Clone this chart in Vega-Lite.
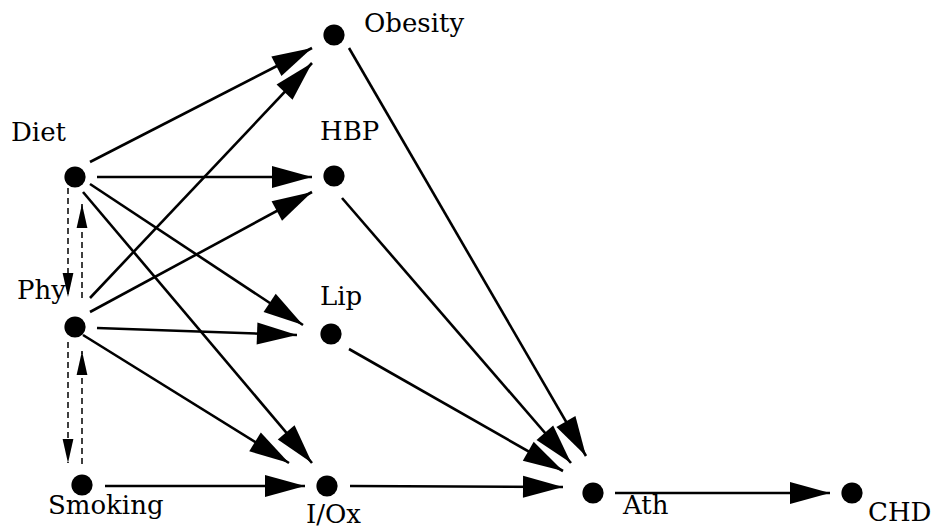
{
  "$schema": "https://vega.github.io/schema/vega-lite/v6.json",
  "width": 935,
  "height": 531,
  "autosize": {"type": "none"},
  "padding": 0,
  "background": "white",
  "config": {"view": {"stroke": null}},
  "datasets": {
    "nodes": [
      {"id": "Obesity", "x": 334, "y": 35, "lx": 364, "ly": 32},
      {"id": "HBP", "x": 334, "y": 176, "lx": 320, "ly": 140},
      {"id": "Diet", "x": 75, "y": 177, "lx": 11, "ly": 141},
      {"id": "Phy", "x": 75, "y": 327, "lx": 17, "ly": 299},
      {"id": "Lip", "x": 331, "y": 334, "lx": 320, "ly": 305},
      {"id": "Smoking", "x": 82, "y": 485, "lx": 48, "ly": 514},
      {"id": "I/Ox", "x": 327, "y": 486, "lx": 306, "ly": 523},
      {"id": "Ath", "x": 593, "y": 493, "lx": 623, "ly": 514},
      {"id": "CHD", "x": 852, "y": 493, "lx": 868, "ly": 521}
    ],
    "edges": [
      {"from": "Diet", "to": "Obesity", "kind": "solid", "x1": 90, "y1": 162, "x2": 312, "y2": 48},
      {"from": "Diet", "to": "HBP", "kind": "solid", "x1": 97, "y1": 177, "x2": 312, "y2": 177},
      {"from": "Diet", "to": "Lip", "kind": "solid", "x1": 90, "y1": 184, "x2": 303, "y2": 325},
      {"from": "Diet", "to": "I/Ox", "kind": "solid", "x1": 83, "y1": 192, "x2": 312, "y2": 463},
      {"from": "Phy", "to": "Obesity", "kind": "solid", "x1": 90, "y1": 298, "x2": 312, "y2": 63},
      {"from": "Phy", "to": "HBP", "kind": "solid", "x1": 90, "y1": 312, "x2": 312, "y2": 192},
      {"from": "Phy", "to": "Lip", "kind": "solid", "x1": 97, "y1": 328, "x2": 297, "y2": 335},
      {"from": "Phy", "to": "I/Ox", "kind": "solid", "x1": 83, "y1": 335, "x2": 289, "y2": 463},
      {"from": "Smoking", "to": "I/Ox", "kind": "solid", "x1": 105, "y1": 486, "x2": 305, "y2": 486},
      {"from": "Obesity", "to": "Ath", "kind": "solid", "x1": 349, "y1": 48, "x2": 586, "y2": 456},
      {"from": "HBP", "to": "Ath", "kind": "solid", "x1": 342, "y1": 198, "x2": 571, "y2": 463},
      {"from": "Lip", "to": "Ath", "kind": "solid", "x1": 349, "y1": 349, "x2": 563, "y2": 471},
      {"from": "I/Ox", "to": "Ath", "kind": "solid", "x1": 350, "y1": 486, "x2": 563, "y2": 487},
      {"from": "Ath", "to": "CHD", "kind": "solid", "x1": 615, "y1": 493, "x2": 830, "y2": 493},
      {"from": "Diet", "to": "Phy", "kind": "dashed", "x1": 68, "y1": 188, "x2": 68, "y2": 297},
      {"from": "Phy", "to": "Diet", "kind": "dashed", "x1": 82, "y1": 298, "x2": 82, "y2": 204},
      {"from": "Phy", "to": "Smoking", "kind": "dashed", "x1": 68, "y1": 342, "x2": 68, "y2": 463},
      {"from": "Smoking", "to": "Phy", "kind": "dashed", "x1": 82, "y1": 464, "x2": 82, "y2": 351}
    ]
  },
  "layer": [
    {
      "data": {"name": "edges"},
      "transform": [{"filter": "datum.kind === 'solid'"}],
      "mark": {"type": "rule", "color": "black", "strokeWidth": 2.6},
      "encoding": {
        "x": {"field": "x1", "type": "quantitative", "scale": {"domain": [0, 935], "nice": false, "zero": false}, "axis": null},
        "y": {"field": "y1", "type": "quantitative", "scale": {"domain": [0, 531], "nice": false, "zero": false, "reverse": true}, "axis": null},
        "x2": {"field": "x2"},
        "y2": {"field": "y2"}
      }
    },
    {
      "data": {"name": "edges"},
      "transform": [{"filter": "datum.kind === 'dashed'"}],
      "mark": {"type": "rule", "color": "black", "strokeWidth": 1.5, "strokeDash": [6, 4]},
      "encoding": {
        "x": {"field": "x1", "type": "quantitative", "scale": {"domain": [0, 935], "nice": false, "zero": false}, "axis": null},
        "y": {"field": "y1", "type": "quantitative", "scale": {"domain": [0, 531], "nice": false, "zero": false, "reverse": true}, "axis": null},
        "x2": {"field": "x2"},
        "y2": {"field": "y2"}
      }
    },
    {
      "data": {"name": "edges"},
      "transform": [
        {"filter": "datum.kind === 'solid'"},
        {"calculate": "atan2(datum.x2 - datum.x1, datum.y1 - datum.y2) * 180 / PI", "as": "dir"}
      ],
      "mark": {"type": "point", "shape": "M0,0L-0.55,2L0.55,2Z", "filled": true, "color": "black", "opacity": 1, "strokeWidth": 0, "size": 1600},
      "encoding": {
        "x": {"field": "x2", "type": "quantitative", "scale": {"domain": [0, 935], "nice": false, "zero": false}, "axis": null},
        "y": {"field": "y2", "type": "quantitative", "scale": {"domain": [0, 531], "nice": false, "zero": false, "reverse": true}, "axis": null},
        "angle": {"field": "dir", "type": "quantitative", "scale": null}
      }
    },
    {
      "data": {"name": "edges"},
      "transform": [
        {"filter": "datum.kind === 'dashed'"},
        {"calculate": "atan2(datum.x2 - datum.x1, datum.y1 - datum.y2) * 180 / PI", "as": "dir"}
      ],
      "mark": {"type": "point", "shape": "M0,0L-0.45,2L0.45,2Z", "filled": true, "color": "black", "opacity": 1, "strokeWidth": 0, "size": 576},
      "encoding": {
        "x": {"field": "x2", "type": "quantitative", "scale": {"domain": [0, 935], "nice": false, "zero": false}, "axis": null},
        "y": {"field": "y2", "type": "quantitative", "scale": {"domain": [0, 531], "nice": false, "zero": false, "reverse": true}, "axis": null},
        "angle": {"field": "dir", "type": "quantitative", "scale": null}
      }
    },
    {
      "data": {"name": "nodes"},
      "mark": {"type": "point", "shape": "circle", "filled": true, "color": "black", "opacity": 1, "strokeWidth": 0, "size": 450},
      "encoding": {
        "x": {"field": "x", "type": "quantitative", "scale": {"domain": [0, 935], "nice": false, "zero": false}, "axis": null},
        "y": {"field": "y", "type": "quantitative", "scale": {"domain": [0, 531], "nice": false, "zero": false, "reverse": true}, "axis": null}
      }
    },
    {
      "data": {"name": "nodes"},
      "mark": {"type": "text", "font": "DejaVu Serif", "fontSize": 26, "align": "left", "baseline": "alphabetic", "color": "black"},
      "encoding": {
        "x": {"field": "lx", "type": "quantitative", "scale": {"domain": [0, 935], "nice": false, "zero": false}, "axis": null},
        "y": {"field": "ly", "type": "quantitative", "scale": {"domain": [0, 531], "nice": false, "zero": false, "reverse": true}, "axis": null},
        "text": {"field": "id", "type": "nominal"}
      }
    }
  ]
}
